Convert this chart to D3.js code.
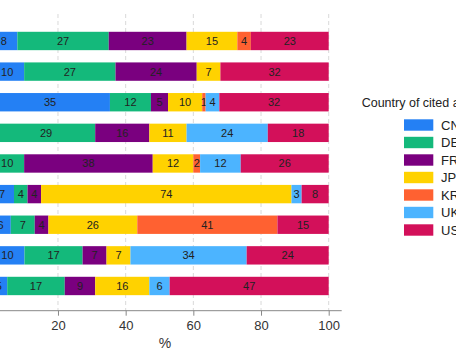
<!DOCTYPE html>
<html><head><meta charset="utf-8">
<script src="https://cdn.jsdelivr.net/npm/d3@7"></script>
<style>body{margin:0;background:#fff}svg{display:block}</style>
</head><body>
<script>
const series = ["CN","DE","FR","JP","KR","UK","US"];
const colors = ["#2480f4","#14b97b","#7a007f","#ffd200","#ff6131","#4cb4ff","#d3105a"];
const rows = ["r1","r2","r3","r4","r5","r6","r7","r8","r9"];
const CN = [8,10,35,2,0,7,6,10,5];
const DE = [27,27,12,29,10,4,7,17,17];
const FR = [23,24,5,16,38,4,4,7,9];
const JP = [15,7,10,11,12,74,26,7,16];
const KR = [4,0,1,0,2,0,41,0,0];
const UK = [0,0,4,24,12,3,0,34,6];
const US = [23,32,32,18,26,8,15,24,47];
const ticks = [20,40,60,80,100];
const legendTitle = "Country of cited authors";
const xTitle = "%";

const W=456,H=356;
const svg=d3.select("body").append("svg").attr("width",W).attr("height",H);
const x=d3.scaleLinear().domain([0,100]).range([-9.7,328.7]);
const y=d3.scaleBand().domain(rows).range([22.6,304.35]).paddingInner(0.4).paddingOuter(0.3);
const axisY=310.7;

const table=rows.map((r,i)=>({row:r,CN:CN[i],DE:DE[i],FR:FR[i],JP:JP[i],KR:KR[i],UK:UK[i],US:US[i]}));
// rounded shares are normalised so each bar spans 0-100 %
const stacked=d3.stack().keys(series).offset(d3.stackOffsetExpand)(table);

// grid
svg.append("g").selectAll("line").data(ticks).join("line")
  .attr("x1",d=>x(d)).attr("x2",d=>x(d)).attr("y1",14).attr("y2",axisY)
  .attr("stroke","#d9d9d9").attr("stroke-width",1).attr("stroke-dasharray","4,3");

const g=svg.append("g");
stacked.forEach((s,si)=>{
  const key=series[si];
  const gg=g.append("g").attr("fill",colors[si]);
  gg.selectAll("rect").data(s).join("rect")
    .attr("x",d=>x(d[0]*100)).attr("width",d=>x(d[1]*100)-x(d[0]*100))
    .attr("y",d=>y(d.data.row)).attr("height",y.bandwidth());
  gg.selectAll("text").data(s.filter(d=>d.data[key]>0)).join("text")
    .attr("x",d=>(x(d[0]*100)+x(d[1]*100))/2).attr("y",d=>y(d.data.row)+y.bandwidth()/2)
    .attr("dy","0.36em").attr("text-anchor","middle")
    .attr("font-family","Liberation Sans, Arial, sans-serif").attr("font-size",11)
    .attr("fill","#222").text(d=>d.data[key]);
});

// x axis
const ax=svg.append("g").attr("transform",`translate(0,${axisY})`)
  .call(d3.axisBottom(x).tickValues(ticks).tickSize(5).tickPadding(5));
ax.select(".domain").attr("d",`M${x(0)},0H341.7`).attr("stroke","#888");
ax.selectAll(".tick line").attr("stroke","#888");
ax.selectAll(".tick text").attr("font-family","Liberation Sans, Arial, sans-serif").attr("font-size",13).attr("fill","#333");
svg.append("text").attr("x",165).attr("y",348).attr("text-anchor","middle")
  .attr("font-family","Liberation Sans, Arial, sans-serif").attr("font-size",14).attr("fill","#333").text(xTitle);

// legend
svg.append("text").attr("x",361.7).attr("y",107).attr("font-family","Liberation Sans, Arial, sans-serif")
  .attr("font-size",12.5).attr("fill","#222").text(legendTitle);
const lg=svg.append("g").selectAll("g").data(series).join("g")
  .attr("transform",(d,i)=>`translate(404,${119.3+i*17.5})`);
lg.append("rect").attr("width",29.3).attr("height",11.4).attr("fill",(d,i)=>colors[i]);
lg.append("text").attr("x",37).attr("y",5.7).attr("dy","0.36em")
  .attr("font-family","Liberation Sans, Arial, sans-serif").attr("font-size",13).attr("fill","#222").text(d=>d);
</script>
</body></html>
